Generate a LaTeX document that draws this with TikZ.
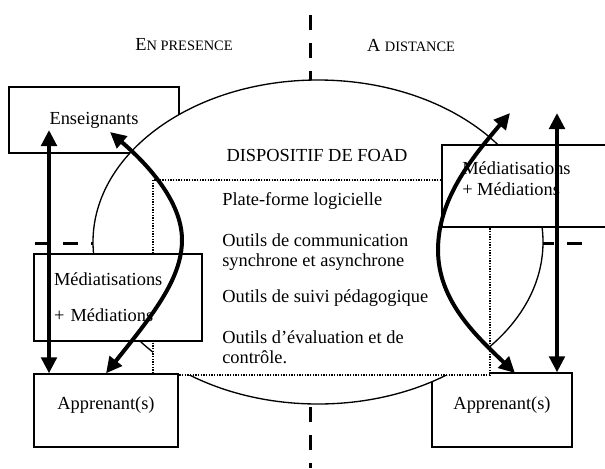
\documentclass[tikz,border=0pt]{standalone}
\usepackage{fontspec}
\setmainfont{Liberation Serif}
\usetikzlibrary{arrows.meta}
\newcommand\pcap{\fontsize{10.8}{12}\selectfont}

\begin{document}
\begin{tikzpicture}[x=0.75pt, y=-0.75pt,
  every node/.style={font=\fontsize{13.8}{15}\selectfont, inner sep=0pt},
  boite/.style={draw, line width=1pt, fill=white},
  fleche/.style={line width=3pt, {Triangle[length=12pt,width=11.5pt]}-{Triangle[length=12pt,width=11.5pt]}},
  axe/.style={line width=2.25pt, dash pattern=on 11.25pt off 9.75pt}]
  \useasboundingbox (0,0) rectangle (605,468);
  \clip (0,0) rectangle (605,468);
  % presence / distance
  \draw[axe] (310,15) -- (310,468);
  \draw[axe] (35,243) -- (587,243);
  \node (presence) at (184,45) {E\pcap N PRESENCE};
  \node (distance) at (411,45) {A {\pcap DISTANCE}};
  \node[boite, minimum width=127.5pt, minimum height=49.5pt] (ens) at (94,120) {Enseignants};
  \node[boite, minimum width=105pt, minimum height=55.5pt, text depth=10.5pt] (app2) at (502,410) {Apprenant(s)};
  % dispositif
  \draw[line width=1pt, fill=white] (318,242) ellipse [x radius=225, y radius=162];
  \draw[line width=1pt, dash pattern=on 1pt off 1pt, fill=white] (153,180) rectangle (490,375);
  \node (foad) at (317,155) {DISPOSITIF DE FOAD};
  \node[anchor=west] (plateforme) at (222,201) {Plate-forme logicielle};
  \node[anchor=west, align=left] (communication) at (222,252) {Outils de communication\\synchrone et asynchrone};
  \node[anchor=west] (suivi) at (222,298) {Outils de suivi pédagogique};
  \node[anchor=west, align=left] (evaluation) at (222,347) {Outils d’évaluation et de\\contrôle.};
  % mediatisations
  \node[boite, minimum width=126pt, minimum height=65.25pt, text width=96pt, inner xsep=15pt, align=left] (med1) at (118,297.5) {Médiatisations\\[12pt]+ Médiations};
  \node[boite, minimum width=133.5pt, minimum height=61.5pt] (med2) at (531,186) {};
  \node[anchor=west, align=left, font=\fontsize{13.8}{15.75}\selectfont] (med2txt) at (462,178.5) {Médiatisations\\+ Médiations};
  \node[boite, minimum width=108pt, minimum height=54.75pt, text depth=10.5pt] (app1) at (106,410.5) {Apprenant(s)};
  % fleches
  \coordinate (ensG) at (49,130);
  \coordinate (ensC) at (110,132);
  \coordinate (distC) at (510,113);
  \coordinate (distD) at (557,113);
  \coordinate (app2C) at (515,373);
  \draw[fleche] (ensG) -- (ensG |- app1.north);
  \draw[fleche] (app1.north) .. controls (150,318) and (182,280) .. (182,240) .. controls (182,200) and (145,162) .. (ensC);
  \draw[fleche] (app2C) .. controls (475,335) and (438,300) .. (438,250) .. controls (438,200) and (470,160) .. (distC);
  \draw[fleche] (distD) -- (distD |- app2.north);
\end{tikzpicture}
\end{document}
